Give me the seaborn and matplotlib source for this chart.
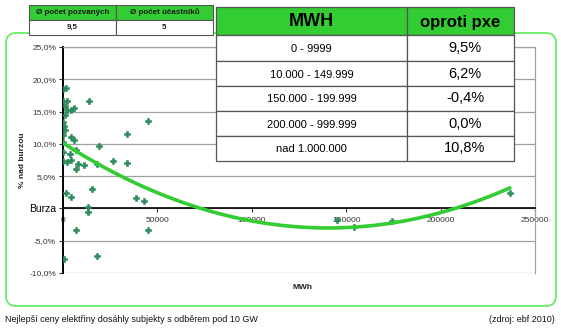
import numpy as np
import pandas as pd
import matplotlib
matplotlib.use("Agg")
import matplotlib.pyplot as plt
import seaborn as sns
from matplotlib.patches import FancyBboxPatch, Rectangle

# ---------------- data ----------------
mwh = [0, 1600, 0, 2100, 1000, 1900, 800, 4000, 5800, 0, 300, 900, 0, 4200,
       5800, 0, 0, 3700, 6700, 0, 1900, 4200, 7800, 6900, 11300, 13800, 19000,
       18200, 15500, 13400, 13400, 1600, 4100, 6900, 500, 18200, 26700, 33700,
       33700, 38700, 43100, 45200, 45200, 145000, 154000, 174000, 236700]
pct = [18.5, 18.6, 16.7, 16.7, 15.9, 15.2, 14.5, 15.3, 15.5, 13.4, 12.7, 12.1,
       11.3, 11.0, 10.6, 10.3, 8.7, 8.5, 9.1, 7.4, 7.2, 7.5, 6.9, 6.1, 6.8, 16.6,
       9.6, 6.9, 3.0, 0.2, -0.6, 2.4, 1.8, -3.3, -7.9, -7.4, 7.3, 11.6, 7.1, 1.6,
       1.2, 13.6, -3.3, -1.8, -2.9, -1.9, 2.4]

y_ticks = [-10, -5, 0, 5, 10, 15, 20, 25]
x_ticks = [0, 50000, 100000, 150000, 200000, 250000]
zero_label = "Burza"

small_head = ["Ø počet pozvaných", "Ø počet účastníků"]
small_vals = ["9,5", "5"]
big_head = ["MWH", "oproti pxe"]
big_ranges = ["0 - 9999", "10.000 - 149.999", "150.000 - 199.999",
              "200.000 - 999.999", "nad 1.000.000"]
big_vals = ["9,5%", "6,2%", "-0,4%", "0,0%", "10,8%"]

footer_left = "Nejlepší ceny elektřiny dosáhly subjekty s odběrem pod 10 GW"
footer_right = "(zdroj: ebf 2010)"

# ---------------- style ----------------
sns.set_theme(style="white")
plt.rcParams["font.family"] = ["Liberation Sans", "DejaVu Sans"]

W, H = 561, 331
fig = plt.figure(figsize=(W / 100, H / 100), dpi=100)
fig.patch.set_facecolor("white")

ax = fig.add_axes([63 / W, 1 - 273 / H, 472 / W, 226 / H])
df = pd.DataFrame({"MWh": mwh, "pct": pct})
sns.regplot(data=df, x="MWh", y="pct", order=2, ci=None, ax=ax, truncate=True,
            marker="P",
            scatter_kws=dict(s=15, color="#2a8a5a", edgecolors="#2a8a5a",
                             linewidths=0.4, alpha=1, zorder=3),
            line_kws=dict(color="#33cc33", lw=2.6, zorder=4))

ax.set_xlim(0, 250000)
ax.set_ylim(-10, 25)
ax.set_yticks(y_ticks)
ylabels = [zero_label if v == 0 else (f"{v:.1f}%").replace(".", ",") for v in y_ticks]
ax.set_yticklabels(ylabels)
ax.set_xticks(x_ticks)
ax.set_xticklabels([str(v) for v in x_ticks])
ax.set_xlabel("")
ax.set_ylabel("% nad burzou", fontsize=6, fontweight="bold", color="#222222")
ax.yaxis.set_label_coords(-0.078, 0.5)

ax.grid(axis="y", color="#a0a0a0", lw=0.9)
ax.grid(axis="x", visible=False)
ax.spines["bottom"].set_position(("data", 0))
ax.spines["bottom"].set_color("black")
ax.spines["bottom"].set_linewidth(1.2)
ax.spines["left"].set_color("black")
ax.spines["left"].set_linewidth(1.4)
for s in ("top", "right"):
    ax.spines[s].set_color("#a0a0a0")
    ax.spines[s].set_linewidth(0.9)
ax.tick_params(axis="y", labelsize=6, colors="#333333", length=3, width=0.8,
               direction="out", left=True, pad=2)
ax.tick_params(axis="x", labelsize=6, colors="#333333", length=3, width=0.8,
               direction="out", bottom=True, pad=3)
for t in ax.get_yticklabels():
    if t.get_text() == zero_label:
        t.set_fontsize(7.5)
        t.set_color("black")
ax.text(0.508, -0.066, "MWh", transform=ax.transAxes, ha="center", va="center",
        fontsize=6, fontweight="bold", color="#222222")

# ---------------- overlay (frame, tables, footer) ----------------
ov = fig.add_axes([0, 0, 1, 1], zorder=10)
ov.set_xlim(0, W)
ov.set_ylim(H, 0)
ov.axis("off")

ov.add_patch(FancyBboxPatch((6, 33), 550, 273, boxstyle="round,pad=0,rounding_size=10",
                            fill=False, ec="#66ee66", lw=1.3))

GREEN = "#33cc33"
EDGE = "#555555"

# small table
sx = [29, 116, 213]
sy = [5, 20, 35]
for i in range(2):
    ov.add_patch(Rectangle((sx[i], sy[0]), sx[i + 1] - sx[i], sy[1] - sy[0],
                           fc=GREEN, ec=EDGE, lw=0.8))
    ov.add_patch(Rectangle((sx[i], sy[1]), sx[i + 1] - sx[i], sy[2] - sy[1],
                           fc="white", ec=EDGE, lw=0.8))
    cx = (sx[i] + sx[i + 1]) / 2
    ov.text(cx, (sy[0] + sy[1]) / 2, small_head[i], ha="center", va="center",
            fontsize=5.8, fontweight="bold", color="#1a1a1a")
    ov.text(cx, (sy[1] + sy[2]) / 2, small_vals[i], ha="center", va="center",
            fontsize=5.8, fontweight="bold", color="#1a1a1a")

# big table
bx = [216, 407, 514]
by = [7, 35, 61, 86, 111, 136, 161]
for i in range(2):
    ov.add_patch(Rectangle((bx[i], by[0]), bx[i + 1] - bx[i], by[1] - by[0],
                           fc=GREEN, ec=EDGE, lw=0.9))
ov.text((bx[0] + bx[1]) / 2, (by[0] + by[1]) / 2 + 1, big_head[0], ha="center",
        va="center", fontsize=13, fontweight="bold", color="black")
ov.text((bx[1] + bx[2]) / 2, (by[0] + by[1]) / 2 + 1, big_head[1], ha="center",
        va="center", fontsize=12, fontweight="bold", color="black")
for r in range(5):
    y0, y1 = by[r + 1], by[r + 2]
    for i in range(2):
        ov.add_patch(Rectangle((bx[i], y0), bx[i + 1] - bx[i], y1 - y0,
                               fc="white", ec=EDGE, lw=0.9))
    ov.text((bx[0] + bx[1]) / 2, (y0 + y1) / 2 + 1, big_ranges[r], ha="center",
            va="center", fontsize=8, color="black")
    ov.text(465, (y0 + y1) / 2, big_vals[r], ha="center", va="center",
            fontsize=10.5, color="black")

ov.text(5, 319, footer_left, ha="left", va="center", fontsize=6.5, color="#111111")
ov.text(555, 319, footer_right, ha="right", va="center", fontsize=6.5, color="#111111")

fig.savefig("out.png", dpi=100)
